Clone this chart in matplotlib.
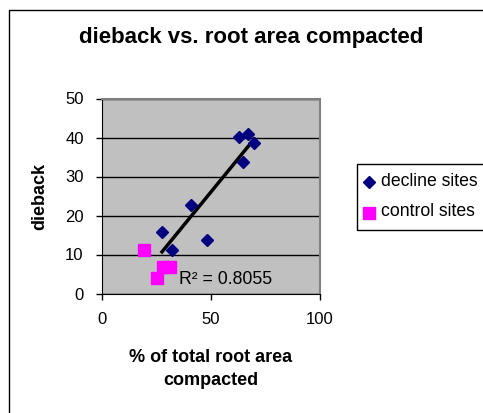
import numpy as np
import matplotlib
matplotlib.use("Agg")
import matplotlib.pyplot as plt
from matplotlib.patches import Rectangle
from matplotlib.lines import Line2D

plt.rcParams["font.family"] = ["Liberation Sans", "DejaVu Sans"]

# decline sites
decline_x = [63.0, 67.1, 70.0, 64.7, 40.8, 27.7, 32.2, 48.4]
decline_y = [40.1, 41.0, 38.7, 33.8, 22.7, 15.8, 11.1, 13.7]
# control sites
control_x = [19.3, 28.3, 31.3, 25.5]
control_y = [11.1, 6.8, 6.8, 3.9]

x_ticks = [0, 50, 100]
y_ticks = [0, 10, 20, 30, 40, 50]
r2_label = "R² = 0.8055"

W, H = 483, 413
fig = plt.figure(figsize=(W / 100, H / 100), dpi=100)
ax = fig.add_axes([101.7 / W, 1 - 293.5 / H, (319.5 - 101.7) / W, (293.5 - 98.5) / H])
ax.set_facecolor("#C0C0C0")

# linear trendline through decline sites
slope, icpt = np.polyfit(decline_x, decline_y, 1)
xs = np.array([min(decline_x), max(decline_x)])
ax.plot(xs, slope * xs + icpt, color="black", lw=2.5, zorder=3)

ax.plot(decline_x, decline_y, "D", color="#000080", ms=5.8, mec="#000080", zorder=4)
ax.plot(control_x, control_y, "s", color="#FF00FF", ms=8.6, mec="#FF00FF", zorder=4)

ax.set_xlim(0, 100)
ax.set_ylim(0, 50)
ax.set_xticks(x_ticks)
ax.set_yticks(y_ticks)
ax.tick_params(axis="both", direction="out", length=4, width=1, labelsize=12, color="black")
ax.tick_params(axis="x", pad=9)
ax.tick_params(axis="y", pad=9)
ax.grid(axis="y", color="black", lw=1)
ax.set_axisbelow(True)
for s in ["top", "right"]:
    ax.spines[s].set_color("#808080")
    ax.spines[s].set_linewidth(1.5)
for s in ["left", "bottom"]:
    ax.spines[s].set_color("black")

ax.text(35.5, 3.6, r2_label, fontsize=12.7, va="center", ha="left")

ax.set_ylabel("dieback", fontsize=13, fontweight="bold", labelpad=12)
ax.set_xlabel("% of total root area\ncompacted", fontsize=13, fontweight="bold",
              labelpad=16, linespacing=1.5)

fig.text(251.5 / W, 1 - 37 / H, "dieback vs. root area compacted",
         fontsize=16, fontweight="bold", ha="center", va="center")

# chart border (cropped on right and bottom)
fig.add_artist(Rectangle((9 / W, -0.2), 2, 1.2 - 10 / H, transform=fig.transFigure,
                         fill=False, ec="black", lw=1))

# legend box
fig.add_artist(Rectangle((356.7 / W, 1 - 230 / H), 1, (230 - 164) / H,
                         transform=fig.transFigure, fill=False, ec="black", lw=1))
fig.add_artist(Line2D([369 / W], [1 - 181.7 / H], marker="D", color="#000080",
                      ms=5.8, transform=fig.transFigure))
fig.add_artist(Line2D([369 / W], [1 - 212.7 / H], marker="s", color="#FF00FF",
                      ms=8.6, transform=fig.transFigure))
fig.text(380.7 / W, 1 - 181 / H, "decline sites", fontsize=12.7, va="center")
fig.text(380.7 / W, 1 - 212 / H, "control sites", fontsize=12.7, va="center")

fig.savefig("out.png", dpi=100)
